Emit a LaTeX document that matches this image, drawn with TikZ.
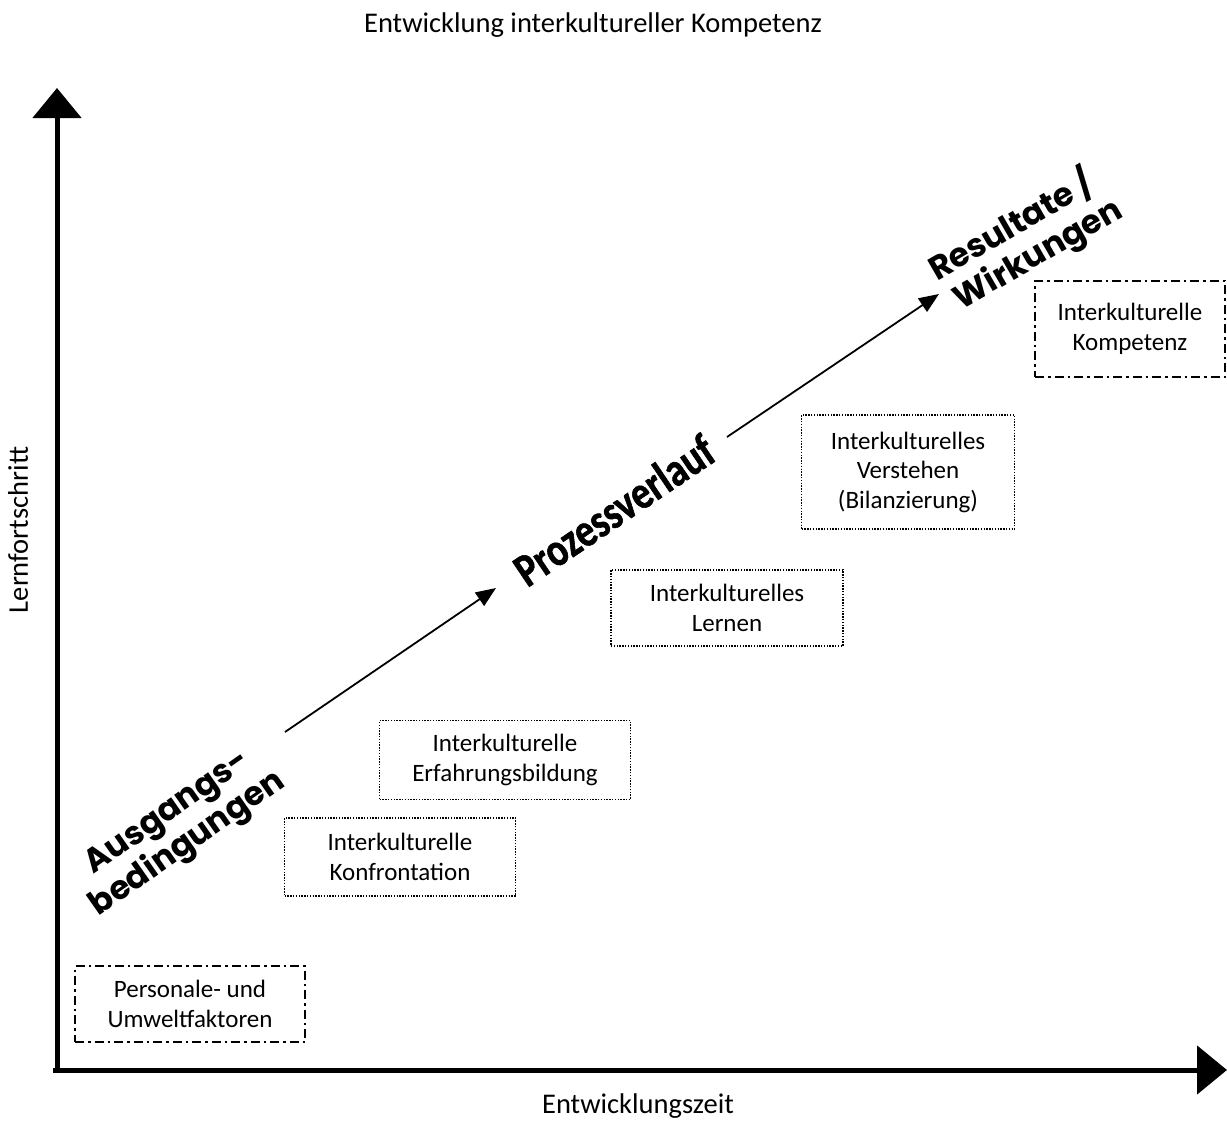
\documentclass[tikz,border=0pt]{standalone}
\usepackage{fontspec}
\setmainfont{Carlito}
\newfontfamily\handfont{Poppins}
\newfontfamily\condfont[FakeStretch=0.82,FakeBold=1.2,UprightFont={* Bold}]{Carlito}
\usetikzlibrary{arrows.meta}
\begin{document}
\begin{tikzpicture}[x=1pt,y=-1pt,
  lbl/.style={font=\fontsize{25}{29.5}\selectfont, align=center, inner sep=0pt},
  axlbl/.style={font=\fontsize{28.5}{33}\selectfont, inner sep=0pt},
  dotbox/.style={lbl, draw, line width=1.4pt, dash pattern=on 1.4pt off 1.4pt},
  dashdotbox/.style={lbl, draw, line width=1.6pt, dash pattern=on 9pt off 4pt on 2.5pt off 4pt},
  axis/.style={line width=5pt, -{Triangle[length=30pt,width=48pt]}},
  flow/.style={line width=1.8pt, -{Triangle[length=20pt,width=16pt]}},
  hand/.style={font=\handfont\bfseries\fontsize{33}{37}\selectfont, align=left, inner sep=0pt},
  proc/.style={font=\condfont\fontsize{47}{50}\selectfont, inner sep=0pt}]
\useasboundingbox (0,0) rectangle (1227,1122);
\coordinate (origin) at (57,1070);
\coordinate (ytop) at (57,88);
\coordinate (xend) at (1227,1070);
\coordinate (xstart) at (53,1070);
\draw[axis] (origin) -- (ytop);
\draw[axis] (xstart) -- (xend);

\node[axlbl] (title) at (593,25) {Entwicklung interkultureller Kompetenz};
\node[axlbl] (xlab) at (638,1106) {Entwicklungszeit};
\node[axlbl, rotate=90] (ylab) at (18,530) {Lernfortschritt};

\node[dashdotbox, minimum width=230pt, minimum height=76pt] (b1) at (190,1004) {Personale- und\\Umweltfaktoren};
\node[dotbox, minimum width=231pt, minimum height=78pt] (b2) at (400,857) {Interkulturelle\\Konfrontation};
\node[dotbox, minimum width=251pt, minimum height=79pt] (b3) at (505,760) {Interkulturelle\\Erfahrungsbildung};
\node[dotbox, minimum width=232pt, minimum height=76pt] (b4) at (727,608) {Interkulturelles\\Lernen};
\node[dotbox, minimum width=213pt, minimum height=114pt] (b5) at (908,472) {Interkulturelles\\Verstehen\\(Bilanzierung)};
\node[dashdotbox, minimum width=190pt, minimum height=96pt] (b6) at (1130,329) {Interkulturelle\\Kompetenz};

\coordinate (a1s) at (285,732);
\coordinate (a1e) at (496,588);
\coordinate (a2s) at (727,437);
\coordinate (a2e) at (939,294);
\draw[flow] (a1s) -- (a1e);
\draw[flow] (a2s) -- (a2e);

\node[hand, rotate=35] (ausg) at (178,830) {\hspace*{0.6em}Ausgangs-\\bedingungen};
\node[proc, rotate=34] (proz) at (614,510) {Prozessverlauf};
\node[hand, rotate=30] (res) at (1024,240) {\hspace*{0.1em}Resultate /\\\hspace*{0.3em}Wirkungen};
\end{tikzpicture}
\end{document}
